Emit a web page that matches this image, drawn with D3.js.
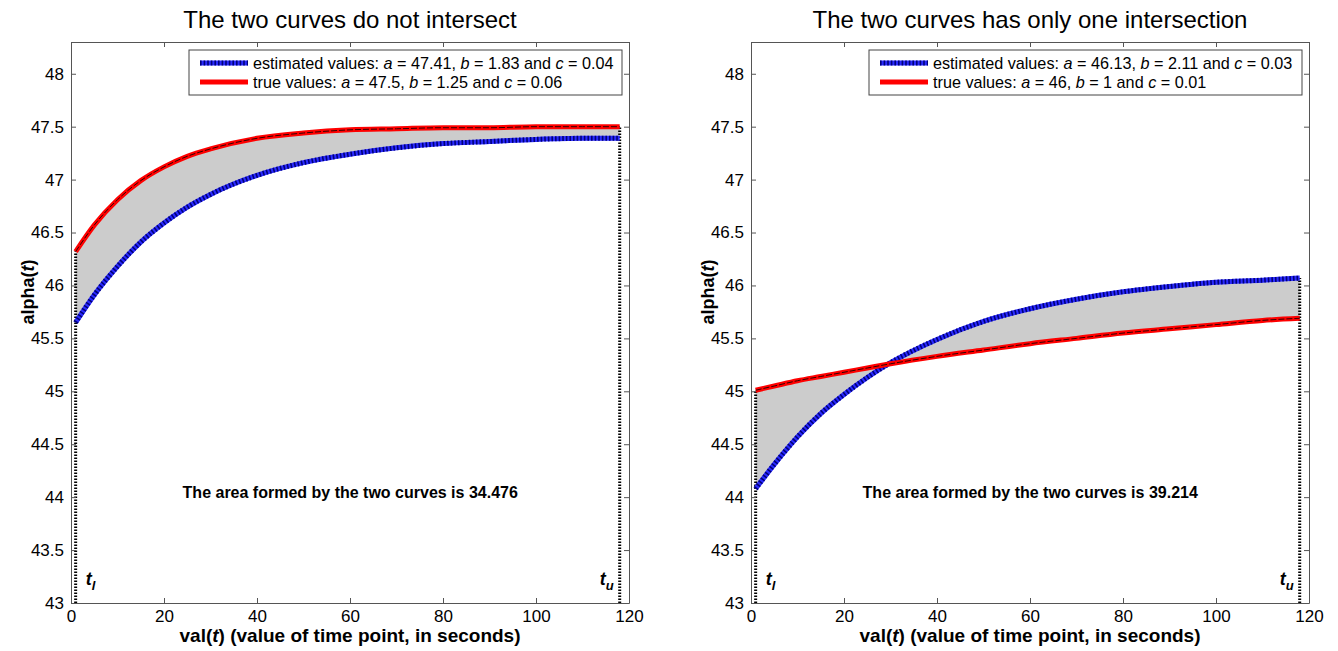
<!DOCTYPE html>
<html>
<head>
<meta charset="utf-8">
<script src="https://cdn.jsdelivr.net/npm/d3@7"></script>
<style>
body { margin:0; background:#fff; }
svg text { font-family:"Liberation Sans", Arial, sans-serif; fill:#000; }
</style>
</head>
<body>
<svg id="svg" width="1338" height="651"></svg>
<script>

var timePoints = [1, 5, 10, 15, 20, 25, 30, 40, 50, 60, 70, 80, 90, 100, 110, 118];

// left panel
var leftTrue = [46.32, 46.57, 46.81, 46.99, 47.12, 47.22, 47.29, 47.39, 47.44, 47.47, 47.48, 47.49, 47.49, 47.50, 47.50, 47.50];
var leftEst  = [45.65, 45.91, 46.18, 46.41, 46.59, 46.74, 46.86, 47.04, 47.16, 47.24, 47.30, 47.34, 47.36, 47.38, 47.39, 47.39];

// right panel
var rightTrue = [45.01, 45.05, 45.10, 45.14, 45.18, 45.22, 45.26, 45.33, 45.39, 45.45, 45.50, 45.55, 45.59, 45.63, 45.67, 45.69];
var rightEst  = [44.08, 44.31, 44.57, 44.79, 44.97, 45.13, 45.27, 45.49, 45.66, 45.78, 45.87, 45.94, 45.99, 46.03, 46.05, 46.07];

var titles = ["The two curves do not intersect", "The two curves has only one intersection"];
var estParams  = [[47.41, 1.83, 0.04], [46.13, 2.11, 0.03]];
var trueParams = [[47.5, 1.25, 0.06], [46, 1, 0.01]];
var areaValues = ["34.476", "39.214"];

var xTicks = [0, 20, 40, 60, 80, 100, 120];
var yTicks = [43, 43.5, 44, 44.5, 45, 45.5, 46, 46.5, 47, 47.5, 48];

// layout
var panelLeft = [71, 751];
var panelWidth = 558;
var plotTop = 42, plotBottom = 603;

var svg = d3.select("#svg");

var panels = [
	{ trueVals: leftTrue,  estVals: leftEst  },
	{ trueVals: rightTrue, estVals: rightEst }
];

panels.forEach(function(p, i) {

	var x = d3.scaleLinear().domain([0, 120]).range([panelLeft[i], panelLeft[i] + panelWidth]);
	var y = d3.scaleLinear().domain([43, 48.3]).range([plotBottom, plotTop]);

	var g = svg.append("g");

	var pts = timePoints.map(function(t, k) {
		return { t: t, tr: p.trueVals[k], es: p.estVals[k] };
	});
	var tFirst = timePoints[0], tLast = timePoints[timePoints.length - 1];

	// shaded region between curves
	g.append("path")
		.datum(pts)
		.attr("fill", "#cccccc")
		.attr("d", d3.area().curve(d3.curveMonotoneX)
			.x(function(d) { return x(d.t); })
			.y0(function(d) { return y(d.es); })
			.y1(function(d) { return y(d.tr); }));

	// vertical dotted bounds
	[0, pts.length - 1].forEach(function(k) {
		var d = pts[k];
		g.append("line")
			.attr("x1", x(d.t)).attr("x2", x(d.t))
			.attr("y1", y(43)).attr("y2", y(Math.max(d.tr, d.es)))
			.attr("stroke", "#000").attr("stroke-width", 3)
			.attr("stroke-dasharray", "1.5,1.5");
	});

	var lineTrue = d3.line().curve(d3.curveMonotoneX)
		.x(function(d) { return x(d.t); }).y(function(d) { return y(d.tr); });
	var lineEst = d3.line().curve(d3.curveMonotoneX)
		.x(function(d) { return x(d.t); }).y(function(d) { return y(d.es); });

	// estimated curve: thick blue dotted
	g.append("path").datum(pts).attr("d", lineEst)
		.attr("fill", "none").attr("stroke", "#2a2aff").attr("stroke-width", 5);
	g.append("path").datum(pts).attr("d", lineEst)
		.attr("fill", "none").attr("stroke", "#00007a").attr("stroke-width", 5)
		.attr("stroke-dasharray", "1.6,2");

	// true curve: thick red with thin dark core
	g.append("path").datum(pts).attr("d", lineTrue)
		.attr("fill", "none").attr("stroke", "#ff0000").attr("stroke-width", 5);
	g.append("path").datum(pts).attr("d", lineTrue)
		.attr("fill", "none").attr("stroke", "#300").attr("stroke-width", 1)
		.attr("stroke-dasharray", "6,2");

	// axes (MATLAB style box with inward ticks)
	var fmt = function(d) { return String(d); };

	g.append("g").attr("transform", "translate(0," + plotBottom + ")")
		.call(d3.axisBottom(x).tickValues(xTicks).tickFormat(fmt).tickSizeInner(-5).tickSizeOuter(0).tickPadding(7));
	g.append("g").attr("transform", "translate(0," + plotTop + ")")
		.call(d3.axisTop(x).tickValues(xTicks).tickFormat("").tickSizeInner(-5).tickSizeOuter(0));
	g.append("g").attr("transform", "translate(" + x(0) + ",0)")
		.call(d3.axisLeft(y).tickValues(yTicks).tickFormat(fmt).tickSizeInner(-5).tickSizeOuter(0).tickPadding(7));
	g.append("g").attr("transform", "translate(" + x(120) + ",0)")
		.call(d3.axisRight(y).tickValues(yTicks).tickFormat("").tickSizeInner(-5).tickSizeOuter(0));

	g.selectAll(".domain").attr("stroke", "#555");
	g.selectAll(".tick line").attr("stroke", "#555");
	g.selectAll(".tick text").style("font-size", "17px").attr("fill", "#000");

	// title
	g.append("text")
		.attr("x", (x(0) + x(120)) / 2).attr("y", 28)
		.attr("text-anchor", "middle")
		.style("font-size", "24px")
		.text(titles[i]);

	// x label
	var xl = g.append("text")
		.attr("x", (x(0) + x(120)) / 2).attr("y", 642)
		.attr("text-anchor", "middle")
		.style("font-size", "19px").style("font-weight", "bold");
	xl.append("tspan").text("val(");
	xl.append("tspan").style("font-style", "italic").text("t");
	xl.append("tspan").text(") (value of time point, in seconds)");

	// y label
	var yl = g.append("text")
		.attr("transform", "translate(" + (x(0) - 37) + ",292) rotate(-90)")
		.attr("text-anchor", "middle")
		.style("font-size", "18px").style("font-weight", "bold");
	yl.append("tspan").text("alpha(");
	yl.append("tspan").style("font-style", "italic").text("t");
	yl.append("tspan").text(")");

	// t_l and t_u markers
	var tl = g.append("text")
		.attr("x", x(tFirst) + 10).attr("y", 585)
		.style("font-size", "18px").style("font-weight", "bold").style("font-style", "italic");
	tl.append("tspan").text("t");
	tl.append("tspan").attr("dy", 5).style("font-size", "13px").text("l");

	var tu = g.append("text")
		.attr("x", x(tLast) - 6).attr("y", 585)
		.attr("text-anchor", "end")
		.style("font-size", "18px").style("font-weight", "bold").style("font-style", "italic");
	tu.append("tspan").text("t");
	tu.append("tspan").attr("dy", 5).style("font-size", "13px").text("u");

	// area annotation
	g.append("text")
		.attr("x", x(24)).attr("y", 498)
		.style("font-size", "16px").style("font-weight", "bold")
		.text("The area formed by the two curves is " + areaValues[i]);

	// legend
	var lx = x(120) - 7 - 433, ly = 50;
	var lg = g.append("g");
	lg.append("rect")
		.attr("x", lx).attr("y", ly).attr("width", 433).attr("height", 45)
		.attr("fill", "#fff").attr("stroke", "#444").attr("stroke-width", 1);

	var rows = [
		{ label: "estimated values: ", par: estParams[i], kind: "est" },
		{ label: "true values: ",      par: trueParams[i], kind: "true" }
	];
	rows.forEach(function(r, k) {
		var ry = ly + 13 + k * 19;
		if (r.kind === "est") {
			lg.append("line").attr("x1", lx + 11).attr("x2", lx + 59).attr("y1", ry).attr("y2", ry)
				.attr("stroke", "#2a2aff").attr("stroke-width", 5);
			lg.append("line").attr("x1", lx + 11).attr("x2", lx + 59).attr("y1", ry).attr("y2", ry)
				.attr("stroke", "#00007a").attr("stroke-width", 5).attr("stroke-dasharray", "1.6,2");
		} else {
			lg.append("line").attr("x1", lx + 11).attr("x2", lx + 59).attr("y1", ry).attr("y2", ry)
				.attr("stroke", "#ff0000").attr("stroke-width", 5);
		}
		var t = lg.append("text").attr("x", lx + 64).attr("y", ry + 6).style("font-size", "16.2px");
		t.append("tspan").text(r.label);
		t.append("tspan").style("font-style", "italic").text("a");
		t.append("tspan").text(" = " + r.par[0] + ", ");
		t.append("tspan").style("font-style", "italic").text("b");
		t.append("tspan").text(" = " + r.par[1] + " and ");
		t.append("tspan").style("font-style", "italic").text("c");
		t.append("tspan").text(" = " + r.par[2]);
	});
});

</script>
</body>
</html>
